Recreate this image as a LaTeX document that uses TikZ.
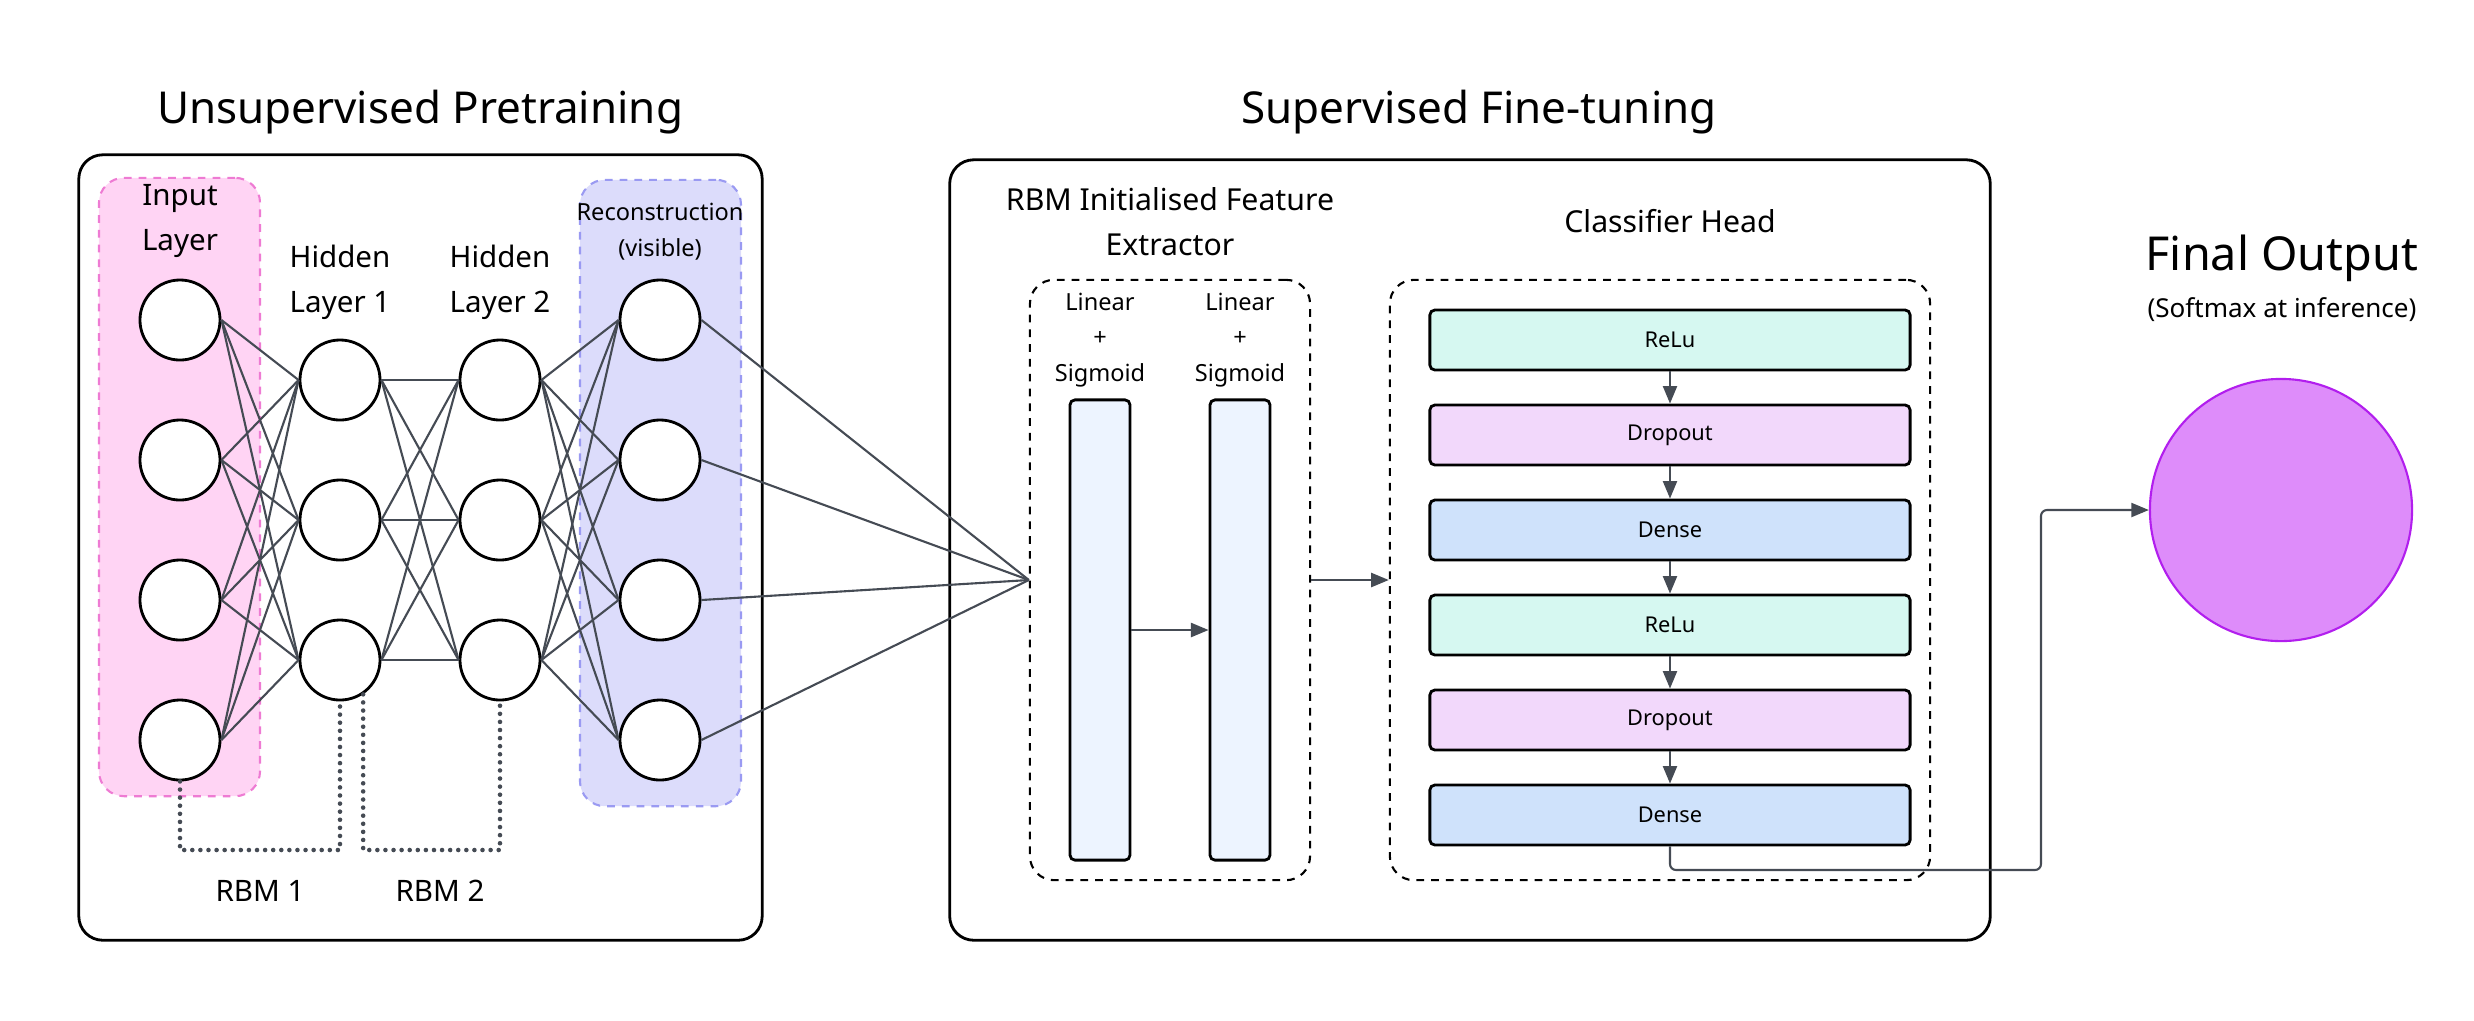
\documentclass[tikz,border=0pt]{standalone}
\usepackage{fontspec}
\setmainfont{Noto Sans}
\usetikzlibrary{arrows.meta,calc}
\definecolor{edgec}{HTML}{454B54}
\definecolor{pinkfill}{HTML}{FFD4F4}
\definecolor{pinkdraw}{HTML}{EE7BD3}
\definecolor{bluefill}{HTML}{DCDCFB}
\definecolor{bluedraw}{HTML}{9A9AF2}
\definecolor{barfill}{HTML}{EDF4FF}
\definecolor{relufill}{HTML}{D6F8F1}
\definecolor{dropfill}{HTML}{F2D8FB}
\definecolor{densefill}{HTML}{CFE2FB}
\definecolor{outfill}{HTML}{DE8CFA}
\definecolor{outdraw}{HTML}{B21EEE}
\begin{document}
\begin{tikzpicture}[x=0.01cm,y=-0.01cm,
  panel/.style={draw=black,line width=0.8pt,rounded corners=0.24cm,inner sep=0},
  grp/.style={line width=0.6pt,dash pattern=on 2.2pt off 2pt,rounded corners=0.25cm,inner sep=0},
  dbox/.style={draw=black,line width=0.6pt,dash pattern=on 2.2pt off 2pt,rounded corners=0.24cm,inner sep=0},
  neuron/.style={circle,draw=black,line width=0.8pt,fill=white,minimum size=0.8cm,inner sep=0},
  conn/.style={draw=edgec,line width=0.6pt},
  arr/.style={draw=edgec,line width=0.6pt,-{Triangle[length=5pt,width=4pt]}},
  rbm/.style={draw=edgec,line width=1.3pt,dash pattern=on 0pt off 2.3pt,line cap=round},
  bar/.style={draw=black,line width=0.8pt,fill=barfill,rounded corners=0.05cm,minimum width=0.6cm,minimum height=4.6cm,inner sep=0},
  layerbox/.style={draw=black,line width=0.8pt,rounded corners=0.05cm,minimum width=4.8cm,minimum height=0.6cm,inner sep=0,font=\fontsize{6.2}{7}\selectfont},
  title/.style={font=\fontsize{12.5}{15}\selectfont,inner sep=0},
  lab/.style={font=\fontsize{8.4}{12.8}\selectfont,align=center,inner sep=0},
  small/.style={font=\fontsize{6.7}{10.2}\selectfont,align=center,inner sep=0}
]
\useasboundingbox (0,0) rectangle (2474,1020);

% panels
\node[panel,minimum width=6.83cm,minimum height=7.85cm] (pre) at (420.5,547.5) {};
\node[panel,minimum width=10.4cm,minimum height=7.8cm] (fine) at (1470,550) {};

% titles
\node[title] (tpre) at (420,112) {Unsupervised Pretraining};
\node[title] (tfine) at (1479,112) {Supervised Fine-tuning};
\node[font=\fontsize{13.3}{16}\selectfont,inner sep=0] (tout) at (2282,258) {Final Output};
\node[font=\fontsize{7.4}{9}\selectfont,inner sep=0] (tsoft) at (2282,310) {(Softmax at inference)};

% group boxes
\node[grp,draw=pinkdraw,fill=pinkfill,minimum width=1.61cm,minimum height=6.18cm] (ingrp) at (179.5,487) {};
\node[grp,draw=bluedraw,fill=bluefill,minimum width=1.61cm,minimum height=6.26cm] (recgrp) at (660.5,493) {};

% layer labels
\node[lab] (tin) at (180,221) {Input\\Layer};
\node[lab] (th1) at (340,282) {Hidden\\Layer 1};
\node[lab] (th2) at (500,282) {Hidden\\Layer 2};
\node[small] (trec) at (660,232) {Reconstruction\\(visible)};

% neurons
\foreach \k/\y in {1/320,2/460,3/600,4/740}{
  \node[neuron] (i\k) at (180,\y) {};
  \node[neuron] (r\k) at (660,\y) {};
}
\foreach \k/\y in {1/380,2/520,3/660}{
  \node[neuron] (h\k) at (340,\y) {};
  \node[neuron] (g\k) at (500,\y) {};
}

% feature extractor and classifier
\node[lab,font=\fontsize{8.6}{12.8}\selectfont] (tfe) at (1170,222) {RBM Initialised Feature\\Extractor};
\node[lab,font=\fontsize{8.6}{12.8}\selectfont] (tcl) at (1670,221) {Classifier Head};
\node[dbox,minimum width=2.8cm,minimum height=6cm] (fe) at (1170,580) {};
\node[dbox,minimum width=5.4cm,minimum height=6cm] (cl) at (1660,580) {};
\node[small] (tl1) at (1100,340) {Linear\\+\\Sigmoid};
\node[small] (tl2) at (1240,340) {Linear\\+\\Sigmoid};
\node[bar] (b1) at (1100,630) {};
\node[bar] (b2) at (1240,630) {};

\node[layerbox,fill=relufill] (c1) at (1670,340) {ReLu};
\node[layerbox,fill=dropfill] (c2) at (1670,435) {Dropout};
\node[layerbox,fill=densefill] (c3) at (1670,530) {Dense};
\node[layerbox,fill=relufill] (c4) at (1670,625) {ReLu};
\node[layerbox,fill=dropfill] (c5) at (1670,720) {Dropout};
\node[layerbox,fill=densefill] (c6) at (1670,815) {Dense};

% final output
\node[circle,draw=outdraw,line width=0.6pt,fill=outfill,minimum size=2.62cm,inner sep=0] (out) at (2281,510) {};

% connections
\foreach \a in {1,...,4}{\foreach \b in {1,2,3}{\draw[conn] (i\a.east) -- (h\b.west);}}
\foreach \a in {1,2,3}{\foreach \b in {1,2,3}{\draw[conn] (h\a.east) -- (g\b.west);}}
\foreach \a in {1,2,3}{\foreach \b in {1,...,4}{\draw[conn] (g\a.east) -- (r\b.west);}}
\foreach \a in {1,...,4}{\draw[conn] (r\a.east) -- (fe.west);}

\draw[arr] (b1.east) -- (b2.west);
\draw[arr] (fe.east) -- (cl.west);
\foreach \a/\b in {c1/c2,c2/c3,c3/c4,c4/c5,c5/c6}{\draw[arr] (\a.south) -- (\b.north);}
\coordinate (bend) at (2041,870);
\draw[arr,rounded corners=0.06cm] (c6.south) |- (bend) |- (out.west);

% RBM brackets
\coordinate (rb1) at (260,850);
\coordinate (rb2) at (440,850);
\draw[rbm] (i4.south) |- (rb1) -| (h3.south);
\draw[rbm] (h3.-56) |- (rb2) -| (g3.south);
\node[lab] (trbm1) at (260,891) {RBM 1};
\node[lab] (trbm2) at (440,891) {RBM 2};
\end{tikzpicture}
\end{document}
